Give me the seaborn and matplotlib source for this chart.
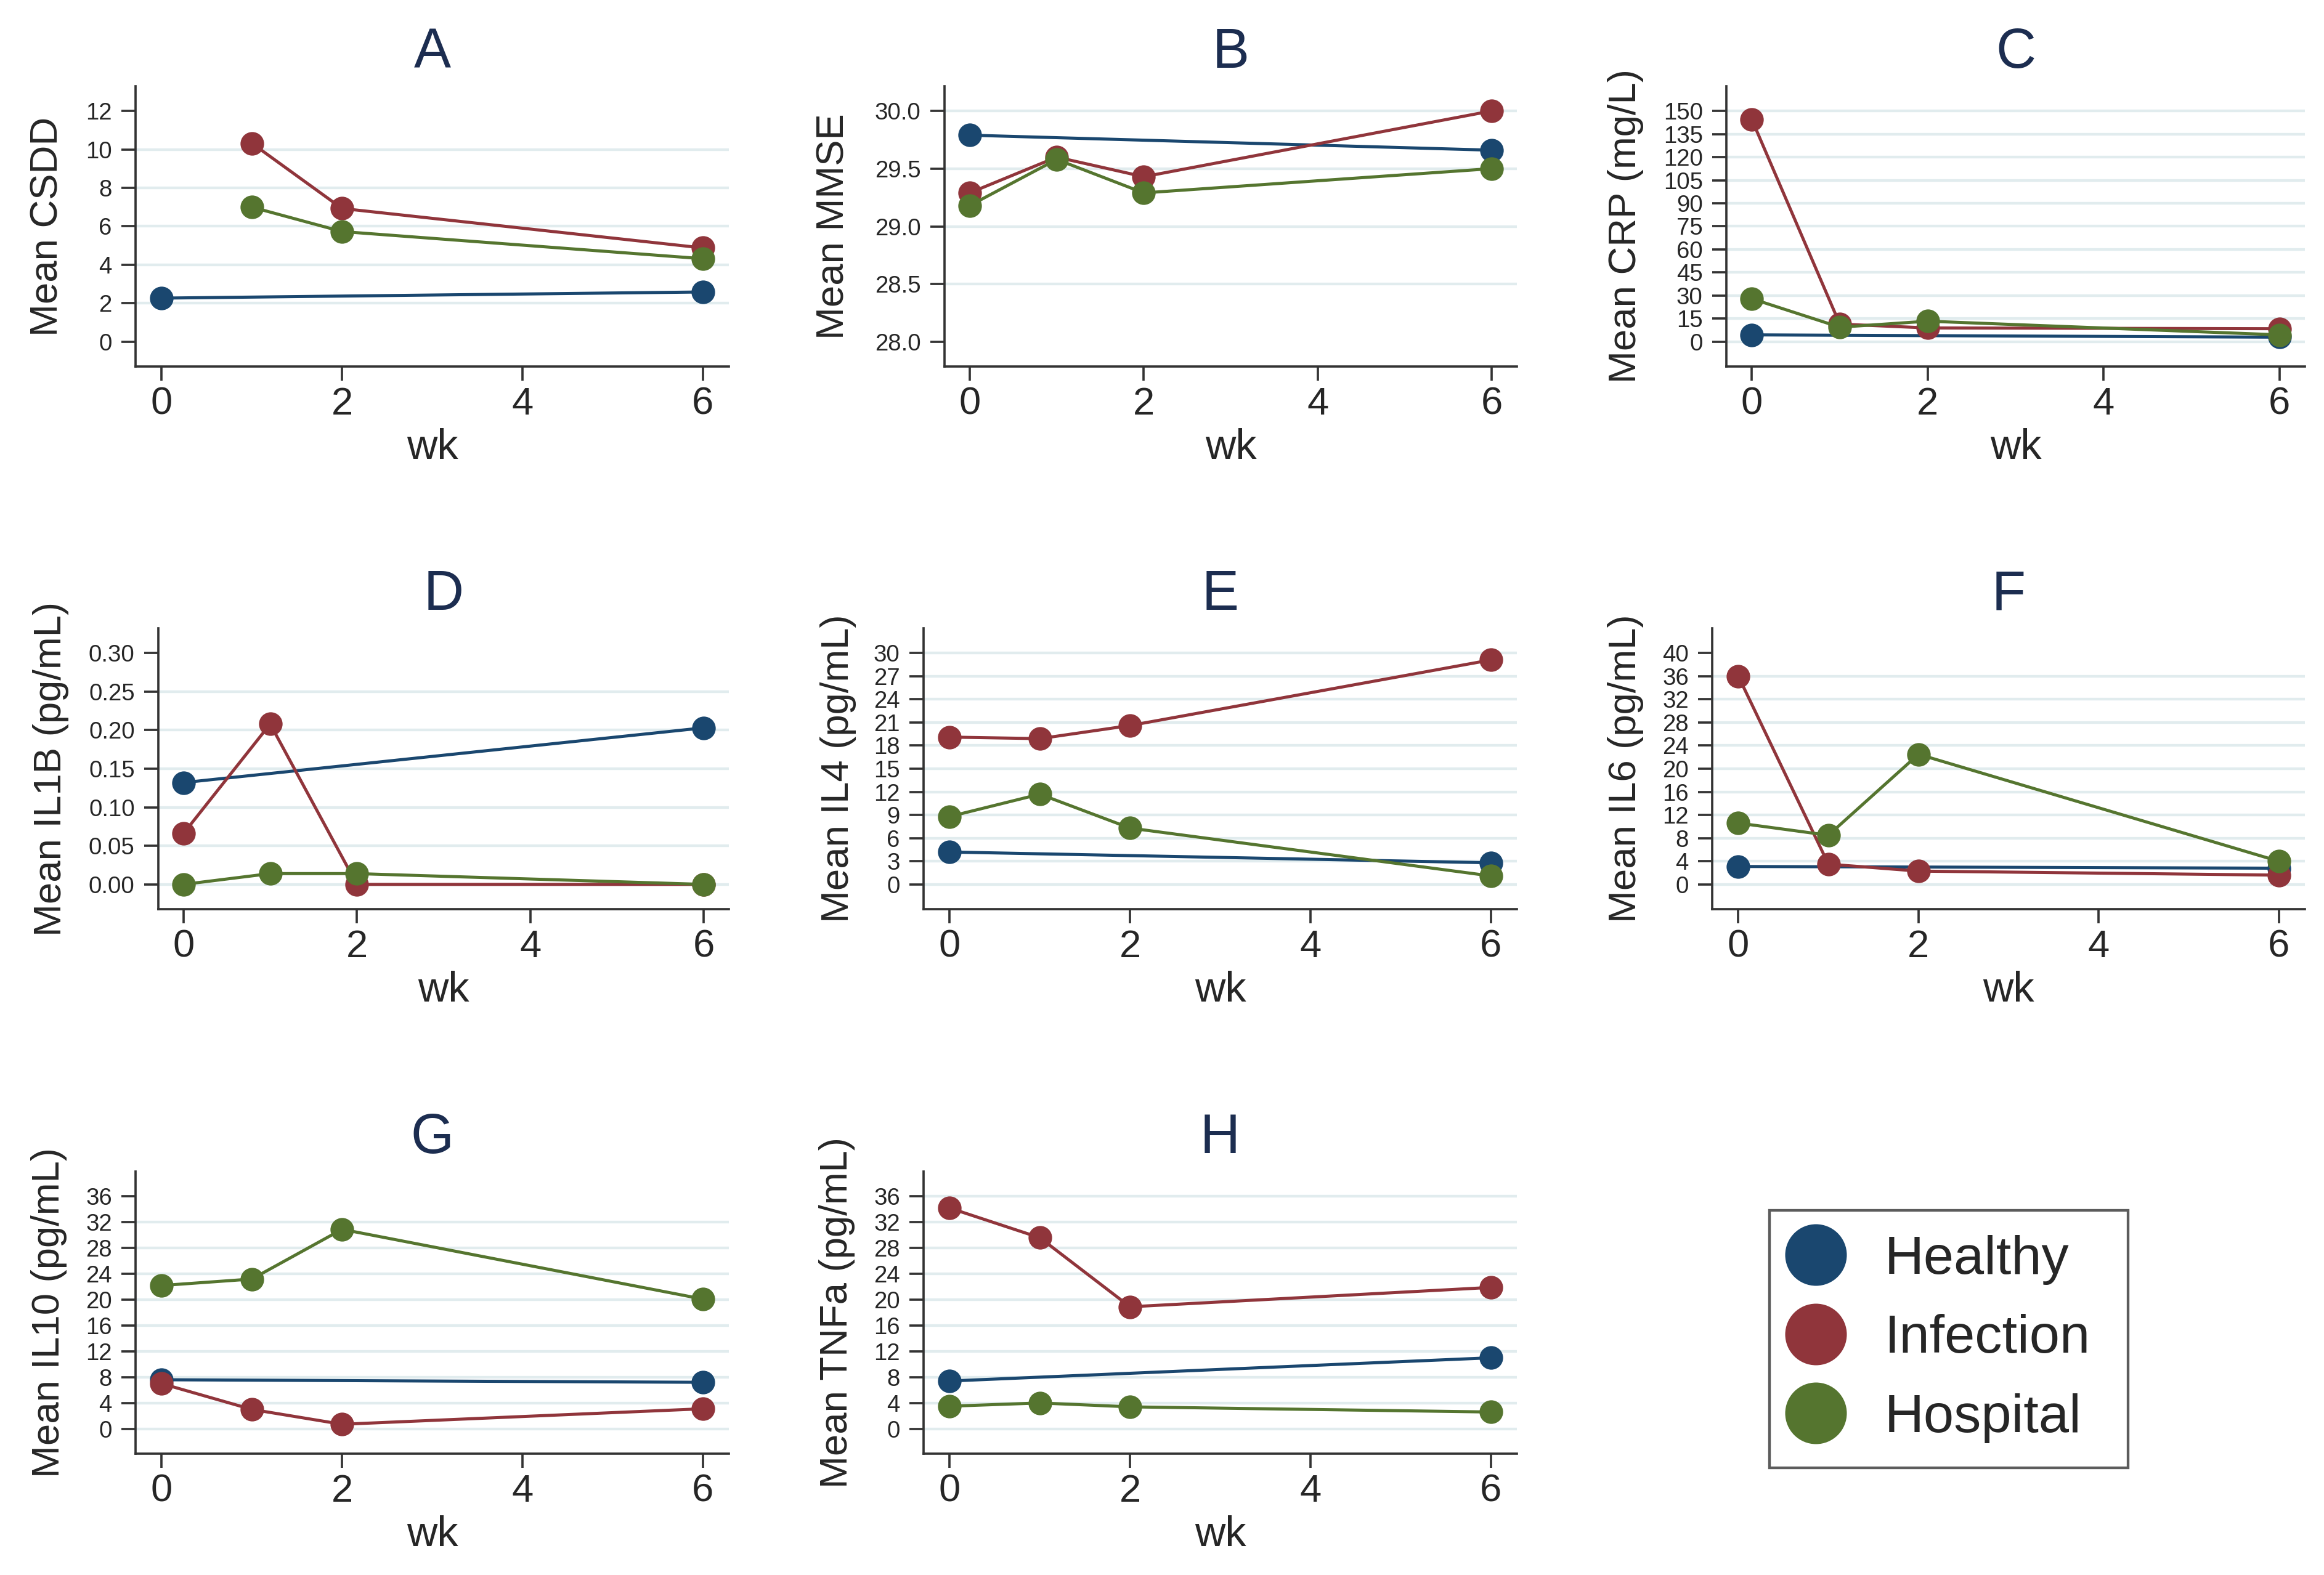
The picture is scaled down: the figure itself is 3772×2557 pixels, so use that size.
import matplotlib
matplotlib.use('Agg')
import matplotlib.pyplot as plt
from matplotlib.lines import Line2D
import seaborn as sns
import pandas as pd
import numpy as np

# weeks
weeks_healthy = [0, 6]
weeks_all = [0, 1, 2, 6]
weeks_csdd = [1, 2, 6]

groups = ['Healthy', 'Infection', 'Hospital']

# A: CSDD
csdd_healthy = [2.27, 2.59]
csdd_infection = [10.32, 6.93, 4.88]
csdd_hospital = [7.0, 5.73, 4.32]

# B: MMSE
mmse_healthy = [29.79, 29.66]
mmse_infection = [29.29, 29.60, 29.43, 30.0]
mmse_hospital = [29.18, 29.58, 29.29, 29.50]

# C: CRP
crp_healthy = [4.5, 3.0]
crp_infection = [144.4, 11.5, 9.0, 8.5]
crp_hospital = [28.0, 9.5, 13.4, 4.5]

# D: IL1B
il1b_healthy = [0.132, 0.203]
il1b_infection = [0.066, 0.208, 0.0, 0.0]
il1b_hospital = [0.0, 0.014, 0.014, 0.0]

# E: IL4
il4_healthy = [4.2, 2.8]
il4_infection = [19.1, 18.9, 20.6, 29.1]
il4_hospital = [8.8, 11.7, 7.3, 1.1]

# F: IL6
il6_healthy = [3.1, 2.8]
il6_infection = [36.0, 3.5, 2.3, 1.6]
il6_hospital = [10.6, 8.5, 22.5, 4.0]

# G: IL10
il10_healthy = [7.6, 7.2]
il10_infection = [7.0, 3.0, 0.7, 3.1]
il10_hospital = [22.2, 23.2, 30.9, 20.1]

# H: TNFa
tnfa_healthy = [7.4, 11.0]
tnfa_infection = [34.2, 29.6, 18.9, 21.9]
tnfa_hospital = [3.5, 4.0, 3.4, 2.6]

titles = ['A', 'B', 'C', 'D', 'E', 'F', 'G', 'H']
ylabels = ['Mean CSDD', 'Mean MMSE', 'Mean CRP (mg/L)', 'Mean IL1B (pg/mL)',
           'Mean IL4 (pg/mL)', 'Mean IL6 (pg/mL)', 'Mean IL10 (pg/mL)', 'Mean TNFa (pg/mL)']
yticks = [np.arange(0, 12.1, 2), np.arange(28.0, 30.01, 0.5), np.arange(0, 151, 15),
          np.arange(0, 0.301, 0.05), np.arange(0, 31, 3), np.arange(0, 41, 4),
          np.arange(0, 37, 4), np.arange(0, 37, 4)]
ytick_fmt = ['{:.0f}', '{:.1f}', '{:.0f}', '{:.2f}', '{:.0f}', '{:.0f}', '{:.0f}', '{:.0f}']
# gridline at lowest / highest tick?
grid_ends = [(False, False), (False, True), (True, True), (True, False),
             (True, True), (True, False), (True, False), (True, True)]

series = [
    (csdd_healthy, csdd_infection, csdd_hospital, weeks_csdd),
    (mmse_healthy, mmse_infection, mmse_hospital, weeks_all),
    (crp_healthy, crp_infection, crp_hospital, weeks_all),
    (il1b_healthy, il1b_infection, il1b_hospital, weeks_all),
    (il4_healthy, il4_infection, il4_hospital, weeks_all),
    (il6_healthy, il6_infection, il6_hospital, weeks_all),
    (il10_healthy, il10_infection, il10_hospital, weeks_all),
    (tnfa_healthy, tnfa_infection, tnfa_hospital, weeks_all),
]

palette = {'Healthy': '#1a476f', 'Infection': '#90353b', 'Hospital': '#55752f'}
title_color = '#1c2d50'
grid_color = '#e1ecee'

sns.set_theme(style='white')
plt.rcParams['font.family'] = ['Liberation Sans', 'DejaVu Sans']

W, H = 3772, 2557
fig = plt.figure(figsize=(W / 240, H / 240), dpi=240, facecolor='white')

# axes boxes in pixels: left, top, right, bottom
boxes = [(220, 140, 1183, 595), (1533, 140, 2462, 595), (2802, 140, 3741, 595),
         (257, 1020, 1183, 1476), (1499, 1020, 2462, 1476), (2779, 1020, 3741, 1476),
         (220, 1902, 1183, 2360), (1499, 1902, 2462, 2360)]
ylabel_off = [143, 180, 164, 174, 138, 140, 140, 140]

for i in range(8):
    l, t, r, b = boxes[i]
    ax = fig.add_axes([l / W, 1 - b / H, (r - l) / W, (b - t) / H])
    h_vals, i_vals, p_vals, wk = series[i]
    df = pd.concat([
        pd.DataFrame({'wk': weeks_healthy, 'value': h_vals, 'group': 'Healthy'}),
        pd.DataFrame({'wk': wk, 'value': i_vals, 'group': 'Infection'}),
        pd.DataFrame({'wk': wk, 'value': p_vals, 'group': 'Hospital'}),
    ], ignore_index=True)

    ticks = yticks[i]
    lo, hi = ticks[0], ticks[-1]
    pad = 0.107 * (hi - lo)
    gl = list(ticks)
    if not grid_ends[i][0]:
        gl = gl[1:]
    if not grid_ends[i][1]:
        gl = gl[:-1]
    for g in gl:
        ax.axhline(g, color=grid_color, lw=1.3, zorder=0)

    sns.lineplot(data=df, x='wk', y='value', hue='group', hue_order=groups,
                 palette=palette, marker='o', markersize=11.5, markeredgewidth=0,
                 linewidth=1.5, errorbar=None, legend=False, ax=ax)

    ax.set_xlim(-0.29, 6.29)
    ax.set_ylim(lo - pad, hi + pad)
    ax.set_xticks([0, 2, 4, 6])
    ax.set_xticklabels(['0', '2', '4', '6'])
    ax.set_yticks(ticks)
    ax.set_yticklabels([ytick_fmt[i].format(v) for v in ticks])
    ax.tick_params(axis='x', length=7, width=1.1, pad=2.5, labelsize=19,
                   direction='out', bottom=True, color='#333333')
    ax.tick_params(axis='y', length=7, width=1.1, pad=4.5, labelsize=11.5,
                   direction='out', left=True, color='#333333')
    sns.despine(ax=ax)
    for s in ['left', 'bottom']:
        ax.spines[s].set_color('#333333')
        ax.spines[s].set_linewidth(1.1)

    ax.set_title(titles[i], fontsize=27, color=title_color, pad=9)
    ax.set_xlabel('wk', fontsize=20.5)
    ax.xaxis.set_label_coords(0.5, -100 / (b - t))
    ax.set_ylabel(ylabels[i], fontsize=19)
    ax.yaxis.set_label_coords(-ylabel_off[i] / (r - l), 0.5)
    ax.yaxis.label.set_va('center')

handles = [Line2D([], [], marker='o', linestyle='none', markersize=30,
                  markeredgewidth=0, color=palette[g]) for g in groups]
leg = fig.legend(handles, groups, loc='upper left', mode='expand',
                 bbox_to_anchor=(2872 / W, 1 - 2365 / H, 582 / W, 400 / H),
                 borderaxespad=0, fontsize=26.5, frameon=True, fancybox=False,
                 borderpad=0.45, labelspacing=0.54, handlelength=0.8,
                 handletextpad=0.86)
leg.get_frame().set_edgecolor('#333333')
leg.get_frame().set_linewidth(1.3)

fig.savefig('out.png', dpi=240, facecolor='white')
